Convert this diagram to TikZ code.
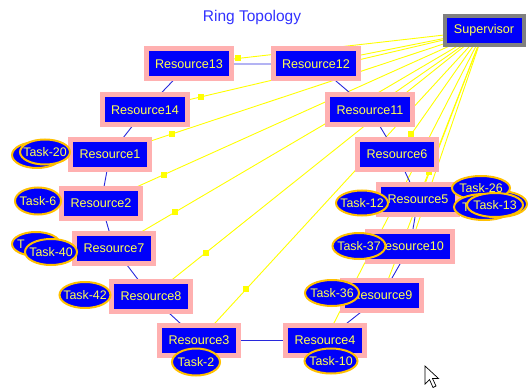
\documentclass[tikz,border=0pt]{standalone}
\usepackage{fontspec}
\setmainfont{Liberation Sans}
\usetikzlibrary{shapes.geometric,backgrounds}
\definecolor{rblue}{RGB}{0,0,250}
\definecolor{rpink}{RGB}{255,176,176}
\definecolor{ryellow}{RGB}{255,255,80}
\definecolor{lyellow}{RGB}{255,255,0}
\definecolor{torange}{RGB}{255,192,0}
\definecolor{sgray}{RGB}{128,128,128}
\definecolor{ringblue}{RGB}{40,40,220}
\definecolor{ttl}{RGB}{50,50,255}
\newcommand{\tasktext}[1]{\makebox[0pt]{#1}}
\newcommand{\tasklead}[2]{\makebox[0pt][l]{\hspace*{#1}#2}}
\begin{document}
\begin{tikzpicture}[x=1pt,y=-1pt,
  res/.style={rectangle,fill=rblue,draw=rpink,line width=5pt,minimum height=30pt,
    inner xsep=9pt,inner ysep=0pt,text=ryellow,font=\fontsize{12.6}{14}\selectfont},
  sup/.style={rectangle,fill=rblue,draw=sgray,line width=4pt,minimum height=29pt,
    minimum width=79pt,inner sep=0pt,text=ryellow,font=\fontsize{12.6}{14}\selectfont},
  task/.style={ellipse,fill=rblue,draw=torange,line width=2pt,minimum width=52pt,
    minimum height=26pt,inner sep=0pt,text=ryellow,font=\fontsize{12.4}{14}\selectfont},
  yline/.style={draw=lyellow,line width=0.9pt},
  sq/.style={rectangle,fill=lyellow,minimum size=6pt,inner sep=0pt},
  ring/.style={draw=ringblue,line width=0.9pt},
  ttlstyle/.style={text=ttl,font=\fontsize{15.5}{18}\selectfont}]
\useasboundingbox (0,0) rectangle (529,390);

\node[ttlstyle] (title) at (252,17) {Ring Topology};
\node[sup] (sup) at (484,30.5) {Supervisor};

\node[res] (r13) at (189,64) {Resource13};
\node[res] (r12) at (316,64) {Resource12};
\node[res] (r14) at (145,110) {Resource14};
\node[res] (r11) at (370,110) {Resource11};
\node[res] (r1) at (110,154.5) {Resource1};
\node[res] (r6) at (397,154.5) {Resource6};
\node[res] (r2) at (101,203) {Resource2};
\node[res] (r5) at (418,199.5) {Resource5};
\node[res] (r7) at (114,248) {Resource7};
\node[res] (r10) at (410,246.5) {Resource10};
\node[res] (r8) at (151,296.5) {Resource8};
\node[res] (r9) at (382,295.5) {Resource9};
\node[res] (r3) at (199,340.5) {Resource3};
\node[res] (r4) at (325,340.5) {Resource4};

\begin{scope}[on background layer]
  \foreach \r in {r13,r12,r14,r11,r1,r6,r2,r5,r7,r10,r8,r9,r3,r4}
    \draw[yline] (sup.center) -- node[pos=0.835,sq]{} (\r.center);
  \draw[ring] (r13.center) -- (r12.center) -- (r11.center) -- (r6.center)
    -- (r5.center) -- (r10.center) -- (r9.center) -- (r4.center) -- (r3.center)
    -- (r8.center) -- (r7.center) -- (r2.center) -- (r1.center) -- (r14.center)
    -- (r13.center);
\end{scope}

% tasks
\node[task,minimum width=50pt] (t20b) at (37,155) {};
\node[task,minimum width=50pt,minimum height=25pt] (t20) at (45,152) {\tasktext{Task-20}};
\node[task,minimum width=46pt,minimum height=27pt] (t6) at (38,201) {\tasktext{Task-6}};
\node[task,minimum width=48pt,minimum height=24pt] (t40b) at (36,244) {\tasklead{-19pt}{T}};
\node[task,minimum width=52pt,minimum height=26pt] (t40) at (51,252) {\tasktext{Task-40}};
\node[task,minimum width=51pt,minimum height=26pt] (t42) at (85,295) {\tasktext{Task-42}};
\node[task,minimum width=48pt,minimum height=27pt] (t2) at (196,362) {\tasktext{Task-2}};
\node[task,minimum width=53pt,minimum height=25pt] (t10) at (331,361) {\tasktext{Task-10}};
\node[task,minimum width=54pt,minimum height=26pt] (t36) at (332,293) {\tasktext{Task-36}};
\node[task,minimum width=53pt,minimum height=26pt] (t37) at (359,246) {\tasktext{Task-37}};
\node[task,minimum width=52pt,minimum height=25pt] (t12) at (362,203) {\tasktext{Task-12}};
\node[task,minimum width=56pt,minimum height=26pt] (t26e) at (499,204) {};
\node[task,minimum width=58pt,minimum height=24pt] (t26) at (481,188) {\tasktext{Task-26}};
\node[task,minimum width=60pt,minimum height=26pt] (t26b) at (484,207) {\tasklead{-22pt}{T}};
\node[task,minimum width=56pt,minimum height=24pt] (t13) at (495,205) {\tasktext{Task-13}};

% mouse pointer
\draw[black,fill=white,line width=0.7pt,line join=miter]
  (425,366) -- (425,384) -- (429.5,379.5) -- (433,387.5) -- (436,386) -- (432.5,378.5)
  -- (438.5,378.5) -- cycle;
\end{tikzpicture}
\end{document}
